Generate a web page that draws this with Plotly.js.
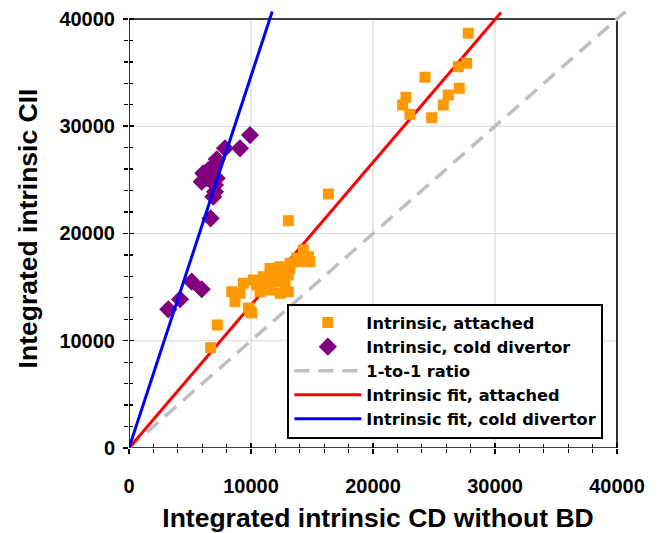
<!DOCTYPE html>
<html><head><meta charset="utf-8">
<script src="https://cdn.plot.ly/plotly-3.0.1.min.js"></script>
<style>html,body{margin:0;padding:0;background:#fff}#chart{width:662px;height:533px}</style>
</head><body><div id="chart"></div>
<script>
// Intrinsic, attached (orange squares)
const attachedX = [7240, 6690, 9920, 9800, 10050,
  8420, 8690, 9100, 9370, 10190, 10460, 10740, 11010, 11280, 11560, 11700, 12100, 12380, 12510, 12790, 13060, 13060, 13200,
  14020, 14840, 14290, 14700, 13750, 13200, 12380, 11560,
  13060, 16340,
  27810, 27680, 26990, 24260, 27070, 26170, 25760, 22700, 22430, 23030, 24810];
const attachedY = [11470, 9350, 12800, 13050, 12600,
  14570, 13640, 14420, 15360, 15660, 15200, 14570, 15970, 15360, 14730, 16290, 15520, 14420, 16440, 15360, 16130, 14570, 16750,
  17370, 17370, 18460, 17840, 17690, 17220, 16900, 16750,
  21190, 23680,
  38670, 35870, 35550, 34570, 33540, 32910, 31980, 32700, 31980, 31110, 30790];
// Intrinsic, cold divertor (purple diamonds)
const coldX = [9920, 9100, 7870, 7190, 6910, 6090, 6500, 6910, 5960, 6370, 7190, 7050, 7050, 6910, 6690, 5140, 5960, 4180, 3220];
const coldY = [29180, 27940, 27940, 26920, 26230, 25610, 25920, 25450, 24830, 25150, 25150, 24520, 23900, 23430, 21410, 15510, 14800, 13870, 12930];
// reference and fit lines (end points)
const ratioX = [0, 40700];
const ratioY = [0, 40700];
const fitAttachedX = [0, 30490];
const fitAttachedY = [0, 40600];
const fitColdX = [0, 11740];
const fitColdY = [0, 40700];
// axes
const axisMax = 40000;
const gridVals = [10000, 20000, 30000];
const seriesNames = ['Intrinsic, attached', 'Intrinsic, cold divertor', '1-to-1 ratio', 'Intrinsic fit, attached', 'Intrinsic fit, cold divertor'];

const FONT = 'Liberation Sans, Arial, sans-serif';
const LEGFONT = 'DejaVu Sans, Liberation Sans, sans-serif';
const XR = [0, 40820], YR = [0, 40930];

const traces = [
  {x: ratioX, y: ratioY, name: seriesNames[2], legendrank: 3, mode: 'lines', type: 'scatter',
   line: {color: '#BFBFBF', width: 3.5, dash: '15px,9px'}},
  {x: fitAttachedX, y: fitAttachedY, name: seriesNames[3], legendrank: 4, mode: 'lines', type: 'scatter',
   line: {color: '#FF0000', width: 3}},
  {x: attachedX, y: attachedY, name: seriesNames[0], legendrank: 1, mode: 'markers', type: 'scatter',
   marker: {symbol: 'square', size: 11, color: '#FF9900', line: {width: 0}}},
  {x: coldX, y: coldY, name: seriesNames[1], legendrank: 2, mode: 'markers', type: 'scatter',
   marker: {symbol: 'diamond', size: 14, color: '#800080', line: {width: 0}}},
  {x: fitColdX, y: fitColdY, name: seriesNames[4], legendrank: 5, mode: 'lines', type: 'scatter',
   xaxis: 'x2', yaxis: 'y2', line: {color: '#0000FF', width: 3}}
];

const shapes = [];
gridVals.forEach(v => {
  shapes.push({type: 'line', xref: 'x', yref: 'y', x0: v, x1: v, y0: 0, y1: axisMax, layer: 'below', line: {color: '#D9D9D9', width: 1.2}});
  shapes.push({type: 'line', xref: 'x', yref: 'y', x0: 0, x1: axisMax, y0: v, y1: v, layer: 'below', line: {color: '#D9D9D9', width: 1.2}});
});
shapes.push({type: 'rect', xref: 'x', yref: 'y', x0: 0, x1: axisMax, y0: 0, y1: axisMax, layer: 'below', line: {color: '#000', width: 1.6}});

const tickFont = {family: FONT, size: 20, color: '#000', weight: 'bold'};
const titleFont = {family: FONT, size: 26.5, color: '#000', weight: 'bold'};
const baseAxis = {
  showgrid: false, zeroline: false, showline: false,
  tickmode: 'linear', tick0: 0, dtick: 10000, tickformat: 'd',
  ticklen: 5, tickwidth: 1.5, tickcolor: '#000',
  minor: {tickmode: 'linear', tick0: 0, dtick: 2000, ticklen: 4, tickwidth: 1.3, tickcolor: '#000', showgrid: false},
  fixedrange: true, automargin: false
};

const layout = {
  width: 662, height: 533,
  margin: {l: 129, r: 35, t: 9, b: 85},
  paper_bgcolor: '#fff', plot_bgcolor: 'rgba(0,0,0,0)',
  showlegend: true,
  legend: {x: 0.318, y: 0.329, xanchor: 'left', yanchor: 'top', bgcolor: '#fff', bordercolor: '#000', borderwidth: 2,
           font: {family: LEGFONT, size: 16.2, color: '#000', weight: 'bold'}, itemwidth: 67, tracegroupgap: 0},
  xaxis: Object.assign({}, baseAxis, {range: XR, ticks: 'outside', ticklabelstandoff: 15, tickfont: tickFont,
     minor: Object.assign({}, baseAxis.minor, {ticks: 'outside'}),
     title: {text: 'Integrated intrinsic CD without BD', font: titleFont, standoff: 13}}),
  yaxis: Object.assign({}, baseAxis, {range: YR, ticks: 'outside', ticklabelstandoff: 4, tickfont: tickFont,
     minor: Object.assign({}, baseAxis.minor, {ticks: 'outside'}),
     title: {text: 'Integrated intrinsic CII', font: titleFont, standoff: 14}}),
  xaxis2: Object.assign({}, baseAxis, {range: XR, overlaying: 'x', anchor: 'y2', side: 'bottom', ticks: 'inside', showticklabels: false,
     minor: Object.assign({}, baseAxis.minor, {ticks: 'inside'})}),
  yaxis2: Object.assign({}, baseAxis, {range: YR, overlaying: 'y', anchor: 'x2', side: 'left', ticks: 'inside', showticklabels: false,
     minor: Object.assign({}, baseAxis.minor, {ticks: 'inside'})}),
  shapes: shapes
};

Plotly.newPlot('chart', traces, layout, {staticPlot: true, displayModeBar: false});
</script>
</body></html>
